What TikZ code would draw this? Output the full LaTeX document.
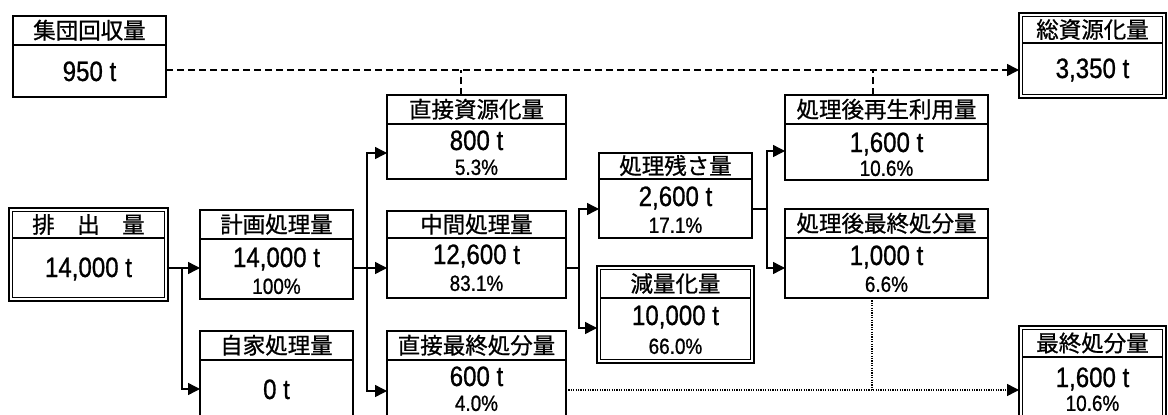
\documentclass[tikz,border=0pt]{standalone}
\usepackage{fontspec}
\newfontfamily\jpfont[FakeBold=0.8]{Noto Sans CJK JP}
\newfontfamily\numfont[FakeStretch=0.86,FakeBold=0.8]{Liberation Sans}
\usetikzlibrary{arrows.meta}
\tikzset{
  boxst/.style={draw, line width=1.6pt, inner sep=0pt, outer sep=0pt},
  hdr/.style={font=\jpfont\fontsize{22.5}{22.5}\selectfont, inner sep=0pt, text height=19.5pt, text depth=3pt},
  val/.style={font=\numfont\fontsize{28}{28}\selectfont, inner sep=0pt, text height=20pt, text depth=0pt},
  pct/.style={font=\numfont\fontsize{22}{22}\selectfont, inner sep=0pt, text height=15.8pt, text depth=0pt},
  conn/.style={line width=1.4pt},
  arr/.style={-{Triangle[length=12pt,width=12pt]}},
  dashconn/.style={line width=1.5pt, dash pattern=on 7pt off 4pt},
  dotconn/.style={line width=1.5pt, dash pattern=on 1.2pt off 1.2pt}
}
% name, x1, y1, x2, y2, ydiv, header
\newcommand\flowbox[7]{%
  \node[boxst, minimum width={#4-#2}, minimum height={#5-#3}, anchor=north west] (#1) at (#2,#3) {};
  \draw[line width=1.6pt] (#2,#6) -- (#4,#6);
  \node[hdr] (#1h) at ({(#2+#4)/2},{(#3+#6)/2}) {#7};
}
\newcommand\dblbox[7]{%
  \node[boxst, minimum width={#4-#2}, minimum height={#5-#3}, anchor=north west] (#1) at (#2,#3) {};
  \draw[line width=1.4pt] ([shift={(3.5,3.5)}]#1.north west) rectangle ([shift={(-3.5,-3.5)}]#1.south east);
  \draw[line width=1.6pt] ({#2+3.5},#6) -- ({#4-3.5},#6);
  \node[hdr] (#1h) at ({(#2+#4)/2},{(#3+#6+3.5)/2}) {#7};
}
\begin{document}
\begin{tikzpicture}[x=1pt,y=-1pt]
\useasboundingbox[fill=white] (0,0) rectangle (1168,415);

% boxes
\flowbox{A}{13}{16}{166}{97}{45}{集団回収量}
\node[val] (Av) at (89.5,71) {950 t};

\dblbox{B}{9}{208}{168}{301}{238}{排　出　量}
\node[val] (Bv) at (88.5,267) {14,000 t};

\flowbox{C}{200}{210}{353}{299}{239}{計画処理量}
\node[val] (Cv) at (276.5,257) {14,000 t};
\node[pct] (Cp) at (276.5,286) {100\%};

\flowbox{D}{200}{331}{353}{425}{360}{自家処理量}
\node[val] (Dv) at (276.5,389) {0 t};

\flowbox{E}{387}{95}{566}{179}{124}{直接資源化量}
\node[val] (Ev) at (476.5,140) {800 t};
\node[pct] (Ep) at (476.5,167) {5.3\%};

\flowbox{F}{387}{211}{566}{298}{238}{中間処理量}
\node[val] (Fv) at (476.5,254) {12,600 t};
\node[pct] (Fp) at (476.5,283) {83.1\%};

\flowbox{G}{387}{331}{566}{425}{360}{直接最終処分量}
\node[val] (Gv) at (476.5,376) {600 t};
\node[pct] (Gp) at (476.5,403) {4.0\%};

\flowbox{H}{599}{153}{752}{238}{179}{処理残さ量}
\node[val] (Hv) at (675.5,196) {2,600 t};
\node[pct] (Hp) at (675.5,225) {17.1\%};

\dblbox{I}{597}{266}{754}{363}{298}{減量化量}
\node[val] (Iv) at (675.5,315) {10,000 t};
\node[pct] (Ip) at (675.5,346) {66.0\%};

\flowbox{J}{785}{95}{988}{180}{124}{処理後再生利用量}
\node[val] (Jv) at (886.5,142) {1,600 t};
\node[pct] (Jp) at (886.5,168) {10.6\%};

\flowbox{K}{785}{209}{988}{298}{238}{処理後最終処分量}
\node[val] (Kv) at (886.5,255) {1,000 t};
\node[pct] (Kp) at (886.5,284) {6.6\%};

\dblbox{L}{1019}{13}{1166}{98}{43}{総資源化量}
\node[val] (Lv) at (1092.5,68) {3,350 t};

\dblbox{M}{1019}{326}{1166}{425}{357}{最終処分量}
\node[val] (Mv) at (1092.5,377) {1,600 t};
\node[pct] (Mp) at (1092.5,403) {10.6\%};

% junction coordinates
\coordinate (j1) at (182,268);
\coordinate (j2) at (367,268);
\coordinate (j3) at (579,268);
\coordinate (j4) at (767,209);
\coordinate (d1) at (461,70);
\coordinate (d2) at (873,70);
\coordinate (d3) at (872,390);

% solid connectors
\draw[conn] (B.east |- j1) -- (j1);
\draw[conn,arr] (j1) -- (C.west |- j1);
\draw[conn,arr] (j1) |- (D.west |- 0,389);

\draw[conn] (C.east |- j2) -- (j2);
\draw[conn,arr] (j2) -- (F.west |- j2);
\draw[conn,arr] (j2) |- (E.west |- 0,153);
\draw[conn,arr] (j2) |- (G.west |- 0,391);

\draw[conn] (F.east |- j3) -- (j3);
\draw[conn,arr] (j3) |- (H.west |- 0,209);
\draw[conn,arr] (j3) |- (I.west |- 0,328);

\draw[conn] (H.east |- j4) -- (j4);
\draw[conn,arr] (j4) |- (J.west |- 0,151);
\draw[conn,arr] (j4) |- (K.west |- 0,268);

% dashed (resource) connectors
\draw[dashconn,arr] (A.east |- 0,70) -- (L.west |- 0,70);
\draw[dashconn] (E.north -| d1) -- (d1);
\draw[dashconn] (J.north -| d2) -- (d2);

% dotted (final disposal) connectors
\draw[dotconn,arr] (G.east |- d3) -- (M.west |- d3);
\draw[dotconn] (K.south -| d3) -- (d3);
\end{tikzpicture}
\end{document}
